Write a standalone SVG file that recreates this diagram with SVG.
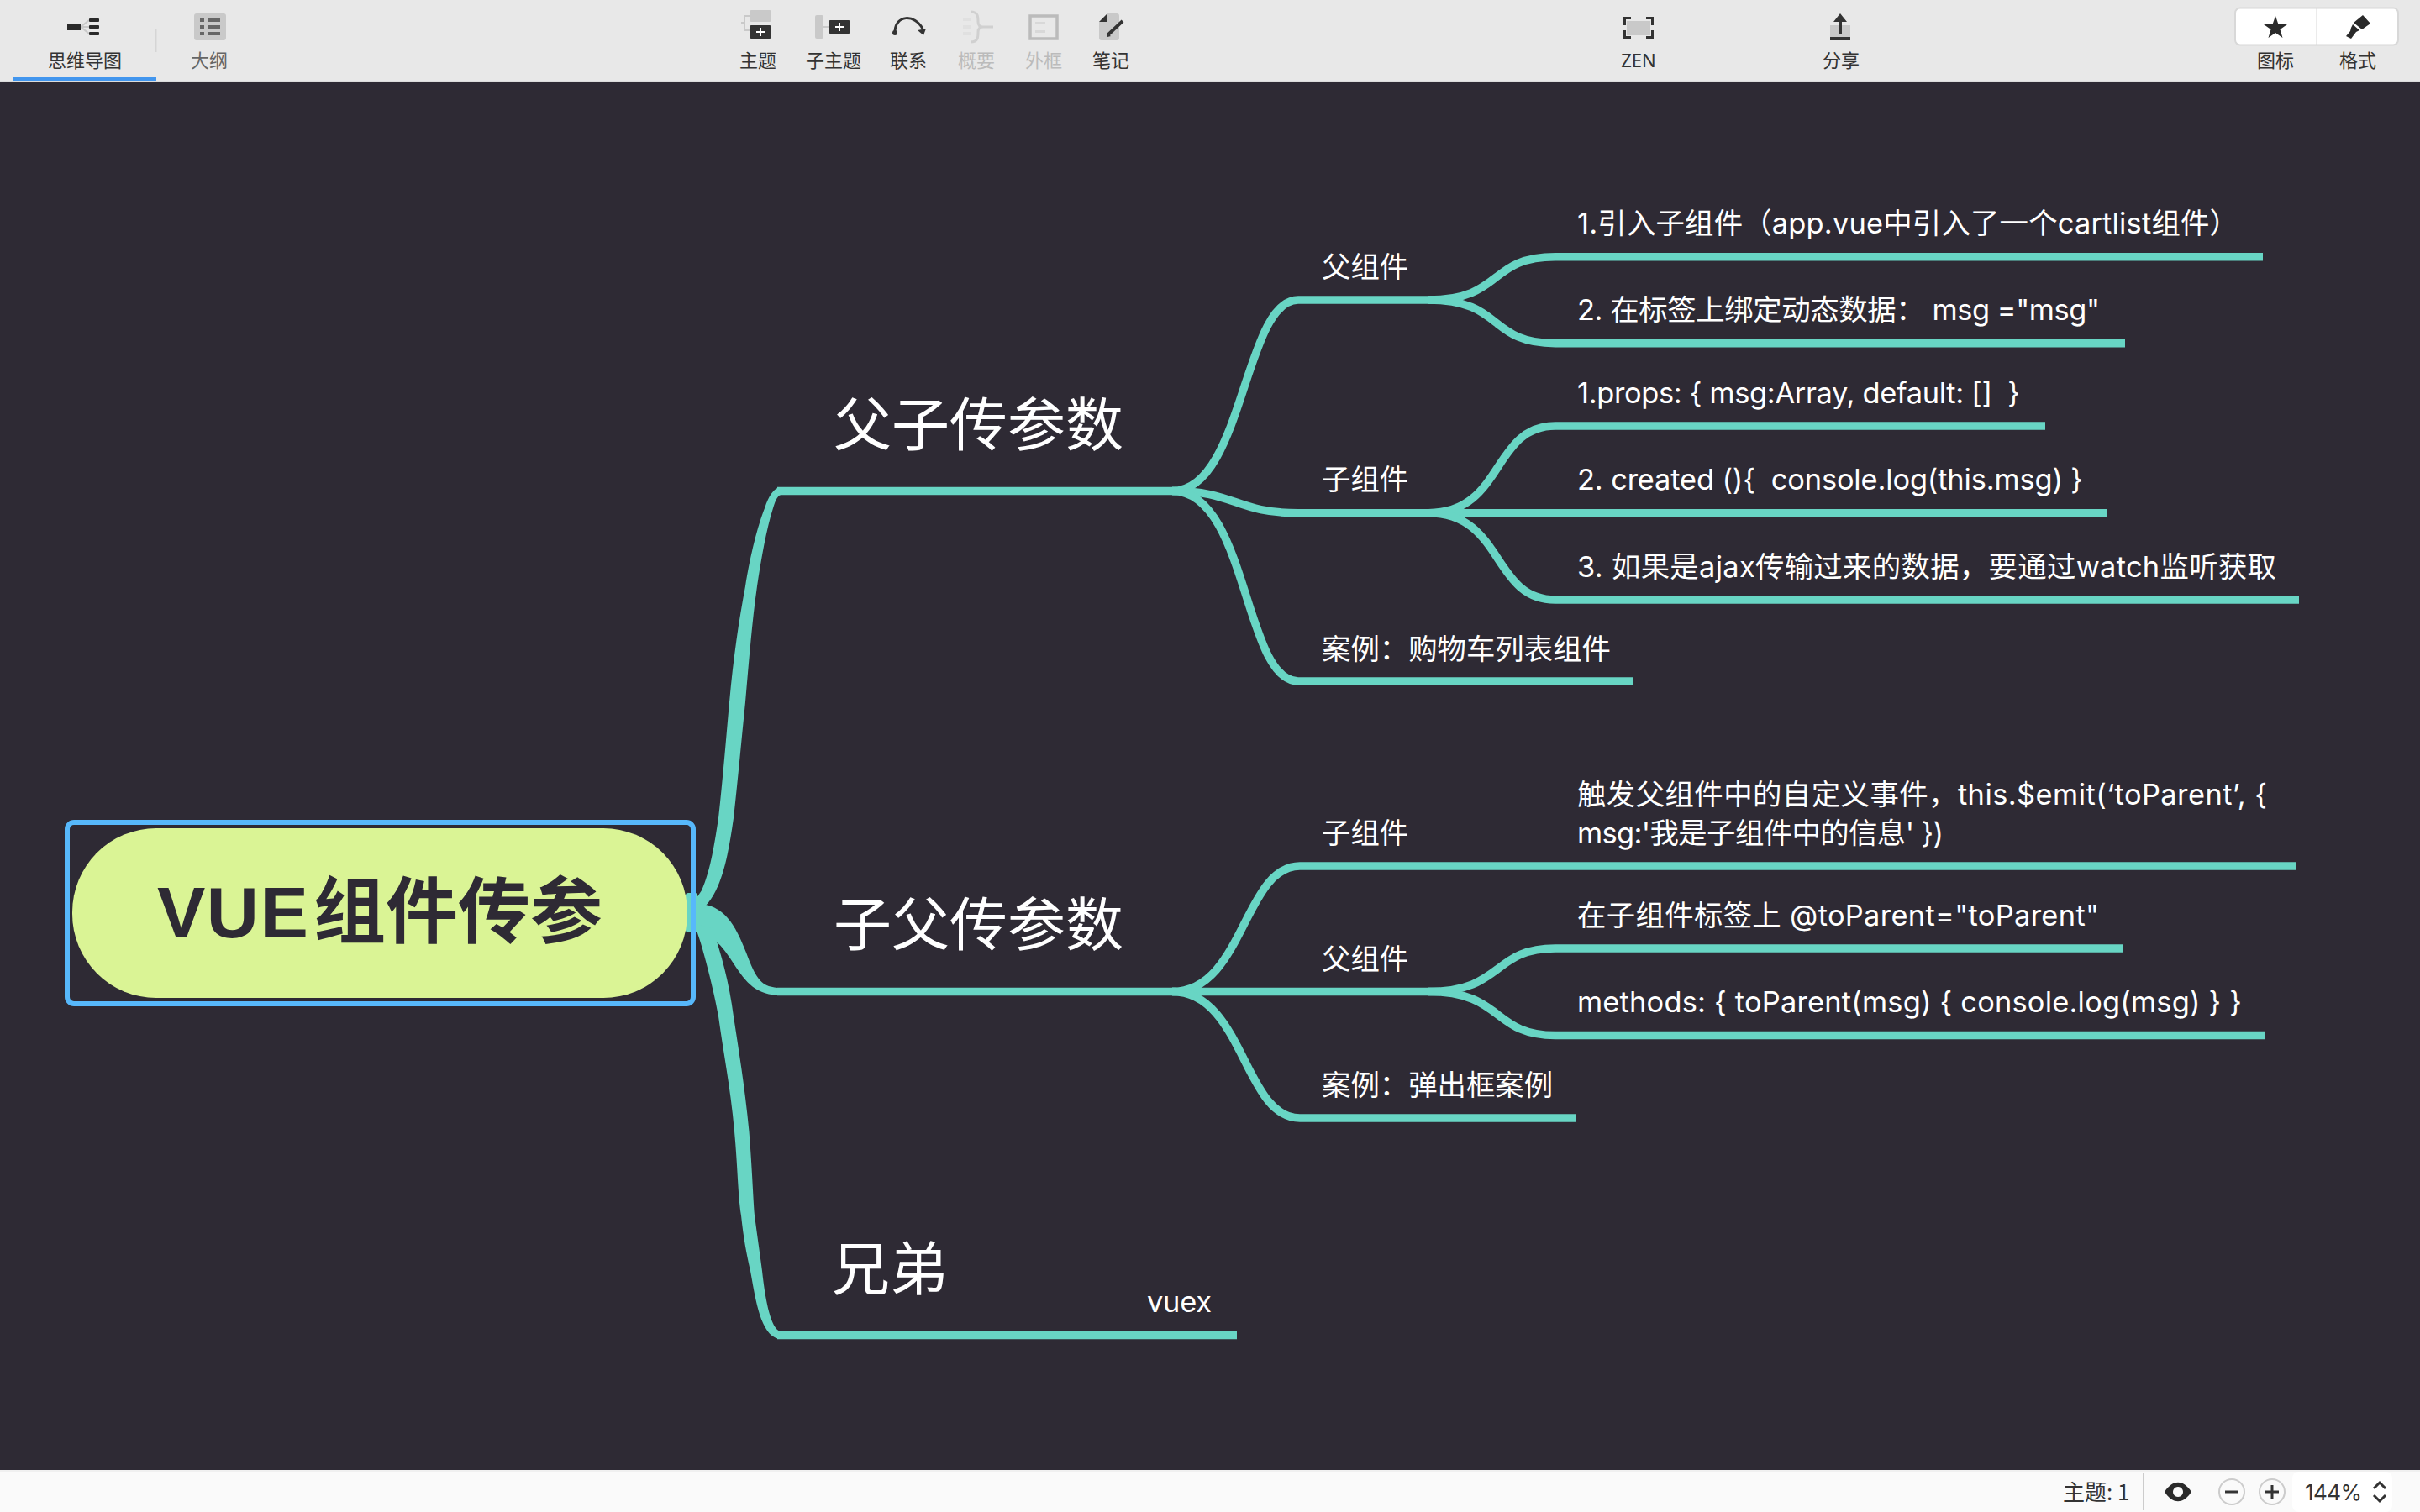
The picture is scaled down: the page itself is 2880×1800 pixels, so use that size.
<svg xmlns="http://www.w3.org/2000/svg" width="2880" height="1800" viewBox="0 0 2880 1800">
<style>
text{font-family:"Inter","Noto Sans CJK SC","Noto Sans",sans-serif;white-space:pre}
.cjk{font-family:"Noto Sans CJK SC",sans-serif}
.l1{font-size:69px;fill:#fff}
.l2,.l3{font-size:34.4px;fill:#fff}
.tb{font-size:22px;fill:#333;text-anchor:middle;font-family:"Noto Sans CJK SC",sans-serif}
.tbg{fill:#666}
.tbd{fill:#bbb}
.st{font-size:26px;fill:#333}
.c{fill:none;stroke:#68d5c4;stroke-width:9.5}
.t{fill:#68d5c4}
.d{fill:#333}
.g{fill:#c9c9c9}
.ln{fill:none;stroke:#c9c9c9;stroke-width:2}
.k{fill:none;stroke:#333;stroke-width:3}
</style>
<rect id="canvas" width="2880" height="1800" fill="#2e2a34"/>

<g id="connectors">
<rect class="t" x="816" y="1063" width="14" height="47" rx="3"/>
<path class="t" d="M820 1080C826 1072 830 1068 835 1060C846 1035 851 1000 855 974C860 930 864 880 868 836C873 780 880 735 887 698C893 660 902 625 910 605C915 590 921 580 930 580V589C926 589 923 595 920 605C912 630 906 665 901 698C895 740 891 790 887 836C882 885 878 930 873 974C868 1010 862 1040 852 1060C848 1068 844 1074 838 1080Z"/>
<path class="t" d="M826 1076C860 1074 875 1100 888 1134C900 1166 906 1176 930 1176V1185C900 1185 888 1170 873 1147C862 1130 850 1112 826 1108Z"/>
<path class="t" d="M826 1100C835 1120 851 1185 855 1210C862 1260 870 1300 874 1347C878 1390 878 1420 882 1447C885 1475 888 1490 893 1513C899 1545 905 1594 930 1594V1585C918 1585 911 1550 907 1513C904 1490 901 1470 898 1447C896 1420 895 1390 891.500 1347C887 1300 880 1255 873 1210C868 1170 858 1135 848 1105Z"/>
<path class="c" d="M925 584.500H1400M925 1180.500H1400M925 1589.500H1472"/>
<path class="c" d="M1395 584.500C1480 584.500 1480 357 1545 357H1709"/>
<path class="c" d="M1395 584.500C1470 584.500 1470 610.700 1545 610.700H1709"/>
<path class="c" d="M1395 584.500C1485 584.500 1480 811 1545 811H1943"/>
<path class="c" d="M1700 357C1790 357 1770 305.700 1851 305.700H2693"/>
<path class="c" d="M1700 357C1790 357 1770 408.700 1851 408.700H2529"/>
<path class="c" d="M1700 610.700C1790 610.700 1775 507 1851 507H2434"/>
<path class="c" d="M1700 610.700H2508"/>
<path class="c" d="M1700 610.700C1790 610.700 1775 714 1851 714H2736"/>
<path class="c" d="M1395 1180.500C1480 1180.500 1480 1031 1547 1031H2733"/>
<path class="c" d="M1395 1180.500H1714"/>
<path class="c" d="M1395 1180.500C1480 1180.500 1480 1331 1547 1331H1875"/>
<path class="c" d="M1700 1180.500C1790 1180.500 1775 1129 1851 1129H2526"/>
<path class="c" d="M1700 1180.500C1790 1180.500 1775 1232.500 1851 1232.500H2696"/>
</g>

<g id="root">
<rect x="86" y="986" width="732" height="202" rx="100" ry="100" fill="#daf495"/>
<rect x="80" y="979" width="745" height="216" rx="8" fill="none" stroke="#57b8fb" stroke-width="6"/>
<text y="1116" font-size="86" font-weight="700" fill="#2e2a34" style="font-family:'Liberation Sans','Noto Sans CJK SC',sans-serif"><tspan x="187" letter-spacing="1.500">VUE</tspan><tspan x="373">组件传参</tspan></text>
</g>

<g id="n-fuzi"><text class="l1 cjk" x="992" y="531">父子传参数</text></g>
<g id="n-zifu"><text class="l1 cjk" x="992" y="1126">子父传参数</text></g>
<g id="n-xiongdi"><text class="l1 cjk" x="990" y="1536">兄弟</text></g>
<g id="n-vuex"><text class="l3" x="1365" y="1562" textLength="77">vuex</text></g>

<g id="n-a1"><text class="l2 cjk" x="1573" y="330">父组件</text></g>
<g id="n-a2"><text class="l2 cjk" x="1573" y="583">子组件</text></g>
<g id="n-a3"><text class="l2 cjk" x="1573" y="785">案例：购物车列表组件</text></g>
<g id="n-b1"><text class="l2 cjk" x="1573" y="1004">子组件</text></g>
<g id="n-b2"><text class="l2 cjk" x="1573" y="1154">父组件</text></g>
<g id="n-b3"><text class="l2 cjk" x="1573" y="1304">案例：弹出框案例</text></g>

<g id="n-l1"><text class="l3" x="1877" y="278" textLength="787">1.引入子组件（app.vue中引入了一个cartlist组件）</text></g>
<g id="n-l2"><text class="l3" x="1877" y="381" textLength="622">2. 在标签上绑定动态数据： msg ="msg"</text></g>
<g id="n-l3"><text class="l3" x="1877" y="480" textLength="527">1.props: { msg:Array, default: []  }</text></g>
<g id="n-l4"><text class="l3" x="1877" y="583" textLength="602">2. created (){  console.log(this.msg) }</text></g>
<g id="n-l5"><text class="l3" x="1877" y="687" textLength="832">3. 如果是ajax传输过来的数据，要通过watch监听获取</text></g>
<g id="n-l6"><text class="l3" x="1877" y="958" textLength="821">触发父组件中的自定义事件，this.$emit(‘toParent’, {</text><text class="l3" x="1877" y="1004" textLength="436">msg:'我是子组件中的信息' })</text></g>
<g id="n-l7"><text class="l3" x="1877" y="1102" textLength="621">在子组件标签上 @toParent="toParent"</text></g>
<g id="n-l8"><text class="l3" x="1877" y="1205" textLength="791">methods: { toParent(msg) { console.log(msg) } }</text></g>

<g id="toolbar">
<rect width="2880" height="97" fill="#e8e8e8"/>
<rect y="96" width="2880" height="2" fill="#dcdcdc"/>
<rect x="16" y="92" width="170" height="4" fill="#4296ee"/>
<rect x="185" y="34" width="1.500" height="28" fill="#d5d5d5"/>
<path class="ln" d="M96 32L106 24M96 32H106M96 32L106 40"/>
<rect x="80" y="28" width="16" height="8" fill="#2a2a2a"/>
<rect x="106" y="22" width="12" height="4" rx="1" fill="#2a2a2a"/><rect x="106" y="30" width="12" height="4" rx="1" fill="#2a2a2a"/><rect x="106" y="38" width="12" height="4" rx="1" fill="#2a2a2a"/>
<text class="tb" x="101" y="80">思维导图</text>
<rect class="g" x="231" y="16" width="38" height="32" rx="3"/>
<path fill="#666" d="M238 22h5v4h-5zM247 22h15v4h-15zM238 30h5v4h-5zM247 30h15v4h-15zM238 38h5v4h-5zM247 38h15v4h-15z"/>
<text class="tb tbg" x="249" y="80">大纲</text>
<path class="ln" d="M882 27H886M892 19H886V36H892"/>
<rect class="g" x="892" y="12" width="26" height="14" rx="2"/>
<rect class="d" x="892" y="30" width="26" height="16" rx="2"/>
<path stroke="#fff" stroke-width="2" d="M905 33V43M900 38H910"/>
<text class="tb" x="902" y="80">主题</text>
<rect class="g" x="970" y="18" width="10" height="28" rx="2"/>
<path class="ln" d="M980 32H986"/>
<rect class="d" x="986" y="24" width="26" height="16" rx="2"/>
<path stroke="#fff" stroke-width="2" d="M999 27V37M994 32H1004"/>
<text class="tb" x="992" y="80">子主题</text>
<path class="k" d="M1065 37C1066 18 1088 16 1098 34"/>
<circle class="d" cx="1065" cy="39" r="3"/>
<path class="d" d="M1092 36L1102 34L1099 42Z"/>
<text class="tb" x="1081" y="80">联系</text>
<path fill="#e0e0e0" d="M1146 21h10v4h-10zM1146 30h10v4h-10zM1146 38h10v4h-10z"/>
<path fill="none" stroke="#d0d0d0" stroke-width="3" d="M1155 14C1164 14 1164 20 1164 26C1164 30 1166 32 1170 32C1166 32 1164 34 1164 38C1164 44 1164 50 1155 50M1170 32H1182"/>
<text class="tb tbd" x="1162" y="80">概要</text>
<rect x="1226" y="19" width="32" height="27" fill="none" stroke="#bbb" stroke-width="3.500"/>
<path fill="#d8d8d8" d="M1232 26h12v3h-12zM1232 36h12v3h-12z"/>
<text class="tb tbd" x="1242" y="80">外框</text>
<path class="g" d="M1318 16H1329Q1332 16 1332 19V45Q1332 48 1329 48H1311Q1308 48 1308 45V26Z"/>
<path class="d" d="M1308 26L1318 16V26Z"/>
<path d="M1319 41L1336 25" stroke="#333" stroke-width="4"/>
<path class="d" d="M1318 44L1317 39L1322 43Z"/>
<text class="tb" x="1322" y="80">笔记</text>
<rect class="g" x="1936" y="25" width="28" height="17"/>
<path class="k" d="M1941 21.500H1933.500V30M1959 21.500H1966.500V30M1941 44.500H1933.500V36M1959 44.500H1966.500V36"/>
<text class="tb" x="1950" y="80" style="font-family:'Noto Sans',sans-serif">ZEN</text>
<rect class="g" x="2178" y="30" width="24" height="15"/>
<rect class="d" x="2178" y="44" width="24" height="4"/>
<path class="d" d="M2190 16L2198 26H2192V40H2188V26H2182Z"/>
<text class="tb" x="2191" y="80">分享</text>
<rect x="2660" y="9.500" width="194" height="44" rx="6" fill="#fff" stroke="#d8d8d8" stroke-width="2"/>
<rect x="2756.500" y="10" width="1.500" height="43" fill="#d8d8d8"/>
<path fill="#2a2a2a" d="M2708 19L2711.500 29H2722L2713.500 35L2716.500 45L2708 39L2699.500 45L2702.500 35L2694 29H2704.500Z"/>
<path fill="#2a2a2a" d="M2812 18L2821 28L2811 35L2801 27ZM2800 29L2808 36L2804 38L2798 46L2792 43L2797 37L2798 33Z"/>
<text class="tb" x="2708" y="80">图标</text>
<text class="tb" x="2806" y="80">格式</text>
</g>

<g id="statusbar">
<rect y="1750" width="2880" height="50" fill="#fafafa"/>
<rect y="1750" width="2880" height="2" fill="#f0f0f0"/>
<text class="st" x="2455" y="1786" style="font-family:'Noto Sans CJK SC',sans-serif">主题: 1</text>
<rect x="2550" y="1754" width="2" height="44" fill="#ccc"/>
<path fill="#2a2a2a" fill-rule="evenodd" d="M2576 1776C2586 1761 2598 1761 2608 1776C2598 1791 2586 1791 2576 1776ZM2592 1770a6 6 0 1 0 .01 0Z"/>
<circle cx="2656" cy="1776" r="15" fill="none" stroke="#ccc" stroke-width="2"/>
<path d="M2648 1776H2664" stroke="#333" stroke-width="3"/>
<circle cx="2704" cy="1776" r="15" fill="none" stroke="#ccc" stroke-width="2"/>
<path d="M2696 1776H2712M2704 1768V1784" stroke="#333" stroke-width="3"/>
<rect x="2728" y="1752" width="119" height="48" rx="8" fill="#fff"/>
<text x="2743" y="1786" font-size="26" fill="#333" textLength="68" style="font-family:'Inter',sans-serif">144%</text>
<path d="M2825 1772L2832 1765L2839 1772M2825 1780L2832 1787L2839 1780" fill="none" stroke="#333" stroke-width="3"/>
</g>
</svg>
